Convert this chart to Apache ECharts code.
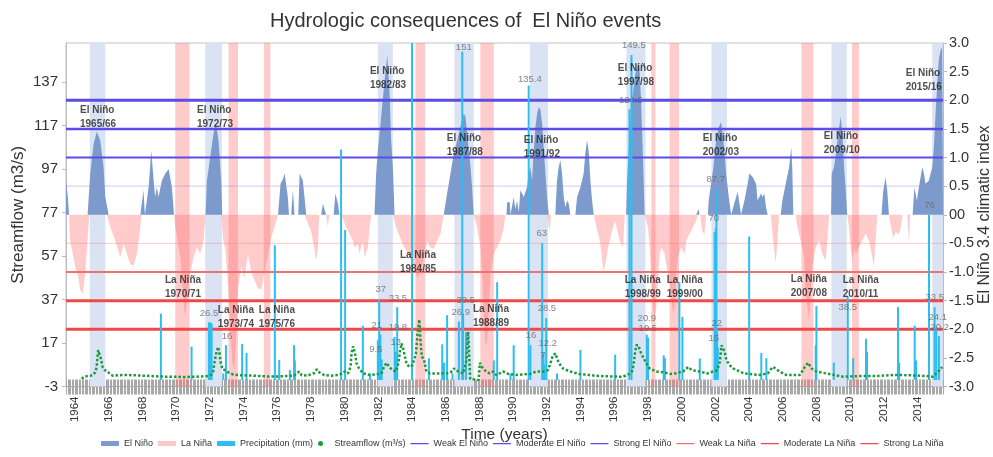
<!DOCTYPE html>
<html><head><meta charset="utf-8">
<script src="https://cdn.jsdelivr.net/npm/echarts@6/dist/echarts.min.js"></script>
<style>html,body{margin:0;padding:0;background:#fff}#c{width:993px;height:457px}</style>
</head><body><div id="c"></div>
<script>
const XMIN = 1963.47, XMAX = 2015.5;
const yearLabels = [1964,1966,1968,1970,1972,1974,1976,1978,1980,1982,1984,1986,1988,1990,1992,1994,1996,1998,2000,2002,2004,2006,2008,2010,2012,2014];
const streamTicks = [-3,17,37,57,77,97,117,137];
const indexTicks = [-3,-2.5,-2,-1.5,-1,-0.5,0,0.5,1,1.5,2,2.5,3];

// Niño 3.4 index [year, value]
const ninoIndex = [
[1963.47,0.6],[1963.58,0.3],[1963.65,0],
[1963.72,-0.45],[1964.02,-0.91],[1964.2,-1.1],[1964.32,-1.32],[1964.45,-1.38],[1964.61,-1.03],[1964.75,-0.45],[1964.85,0],
[1964.91,0.72],[1965.11,1.24],[1965.3,1.45],[1965.5,1.3],[1965.7,0.83],[1965.8,0.31],[1965.9,0.34],[1966.0,0],
[1966.1,-0.22],[1966.39,-0.45],[1966.69,-0.74],[1966.89,-0.51],[1967.08,-0.68],[1967.28,-0.86],[1967.48,-0.89],[1967.68,-0.68],[1967.88,-0.22],[1967.95,0],
[1968.07,0.43],[1968.15,0],[1968.25,0],[1968.37,0.48],[1968.53,1.12],[1968.67,0.6],[1968.76,0.31],[1968.86,0.48],[1968.96,0.31],[1969.16,0.6],[1969.36,0.72],[1969.56,0.8],[1969.75,0.48],[1969.88,0],
[1969.95,-0.22],[1970.25,-0.74],[1970.45,-1.5],[1970.54,-1.79],[1970.64,-1.5],[1970.84,-1.03],[1971.04,-0.74],[1971.24,-0.57],[1971.43,-0.68],[1971.63,-0.45],[1971.75,0],
[1971.83,0.6],[1972.03,1.01],[1972.22,1.42],[1972.36,1.59],[1972.52,1.3],[1972.68,0.6],[1972.74,0],
[1972.8,-0.45],[1972.92,-0.6],[1973.11,-1.32],[1973.25,-2.2],[1973.35,-2.6],[1973.45,-2.72],[1973.55,-2.3],[1973.67,-1.3],[1973.87,-0.9],[1974.06,-1.1],[1974.26,-0.7],[1974.46,-1.0],[1974.66,-1.15],[1974.86,-1.29],[1975.05,-1.3],[1975.25,-1.0],[1975.45,-0.7],[1975.65,-0.4],[1975.84,-0.22],[1976.05,0],
[1976.2,0.55],[1976.34,0.62],[1976.44,0.72],[1976.54,0.75],[1976.63,0.31],[1976.7,0],[1976.83,0],[1976.93,0.43],[1977.03,0],[1977.25,0],[1977.33,0.72],[1977.42,0.75],[1977.52,0.6],[1977.62,0.31],[1977.72,0],
[1977.82,-0.15],[1978.02,-0.3],[1978.21,-0.6],[1978.31,-0.8],[1978.41,-0.6],[1978.5,0],
[1978.61,0],[1978.71,0.19],[1978.8,0.1],[1978.9,0],[1979.0,-0.2],[1979.1,0],[1979.35,0],[1979.45,0.37],[1979.6,0.2],[1979.69,0],
[1979.8,0],[1980.09,-0.22],[1980.29,-0.33],[1980.49,-0.45],[1980.59,-0.57],[1980.78,-0.51],[1980.88,-0.68],[1981.08,-0.45],[1981.18,-0.74],[1981.38,-0.57],[1981.48,-0.22],[1981.58,0],
[1981.77,0],[1981.87,0.72],[1981.97,1.12],[1982.17,1.71],[1982.37,2.35],[1982.53,2.79],[1982.66,2.17],[1982.76,1.3],[1982.86,0.83],[1982.92,0.37],[1982.96,0],
[1983.06,-0.22],[1983.16,-0.3],[1983.36,-0.45],[1983.55,-0.57],[1983.75,-0.68],[1983.95,-0.8],[1984.15,-0.9],[1984.3,-1.1],[1984.5,-1.0],[1984.7,-0.75],[1984.9,-0.45],[1985.09,-0.57],[1985.29,-0.6],[1985.49,-0.45],[1985.69,-0.33],[1985.88,0],
[1985.98,0],[1986.08,0.37],[1986.28,0.72],[1986.48,1.07],[1986.68,1.3],[1986.87,1.54],[1987.07,1.77],[1987.17,1.71],[1987.27,1.42],[1987.37,1.12],[1987.47,0.83],[1987.56,0.48],[1987.66,0],
[1987.76,0],[1987.86,-0.22],[1988.06,-0.57],[1988.16,-1.03],[1988.26,-1.74],[1988.36,-2.3],[1988.45,-2.2],[1988.55,-1.62],[1988.65,-1.03],[1988.85,-0.68],[1989.05,-0.57],[1989.24,-0.45],[1989.44,-0.22],[1989.54,0],
[1989.6,0],[1989.64,0.22],[1989.8,0.22],[1989.84,0],[1989.95,0],[1990.03,0.31],[1990.13,0.1],[1990.23,0.25],[1990.33,0.05],[1990.43,0.43],[1990.53,0.37],[1990.63,0.31],[1990.82,0.48],[1990.92,0.72],[1991.02,0.83],[1991.12,0.6],[1991.22,1.12],[1991.32,1.53],[1991.42,1.77],[1991.52,1.88],[1991.62,1.83],[1991.72,1.59],[1991.81,1.18],[1991.91,0.72],[1992.01,0.31],[1992.11,0],
[1992.15,-0.3],[1992.25,0],
[1992.5,0],[1992.6,0.6],[1992.7,0.83],[1992.8,0.95],[1992.9,0.72],[1993.0,0.31],[1993.1,0.13],[1993.2,0.25],[1993.3,0.19],[1993.39,0],
[1993.69,0],[1993.79,0.31],[1993.99,0.48],[1994.18,0.72],[1994.28,1.07],[1994.38,1.3],[1994.48,1.12],[1994.58,0.6],[1994.68,0.25],[1994.78,0],
[1994.84,0],[1994.94,-0.22],[1995.14,-0.45],[1995.24,-0.68],[1995.34,-0.97],[1995.44,-0.91],[1995.63,-0.57],[1995.83,-0.33],[1996.03,-0.1],[1996.13,-0.22],[1996.32,-0.45],[1996.52,-0.57],[1996.62,0],
[1996.7,0],[1996.76,0.6],[1996.88,1.3],[1997.02,1.88],[1997.21,2.41],[1997.41,2.65],[1997.51,2.47],[1997.6,1.88],[1997.7,1.0],[1997.8,0],
[1997.9,0],[1998.0,-0.22],[1998.1,-0.57],[1998.2,-1.15],[1998.29,-1.61],[1998.39,-1.85],[1998.49,-1.61],[1998.59,-1.15],[1998.69,-0.68],[1998.79,-0.57],[1998.98,-0.68],[1999.18,-1.03],[1999.38,-1.38],[1999.48,-1.73],[1999.58,-1.61],[1999.67,-1.03],[1999.77,-0.74],[1999.97,-0.57],[2000.17,-0.68],[2000.27,-0.45],[2000.46,-0.33],[2000.66,-0.22],[2000.86,-0.1],[2000.95,0],
[2001.0,0.1],[2001.05,0],[2001.1,0],[2001.2,-0.27],[2001.35,-0.35],[2001.45,0],
[2001.55,0],[2001.6,0.25],[2001.74,0.54],[2001.88,0.83],[2002.04,1.3],[2002.2,1.53],[2002.33,1.62],[2002.43,1.42],[2002.53,1.12],[2002.63,0.72],[2002.79,0.31],[2002.93,0],
[2003.02,0],[2003.12,0.2],[2003.32,0.4],[2003.42,0.2],[2003.52,0],
[2003.62,0],[2003.72,0.25],[2003.91,0.54],[2004.01,0.72],[2004.21,0.66],[2004.41,0.54],[2004.5,0.25],[2004.6,0.31],[2004.7,0.37],[2004.8,0.31],[2004.9,0.37],[2005.0,0.13],[2005.1,0],
[2005.28,0],[2005.38,-0.3],[2005.47,-0.6],[2005.57,-0.83],[2005.67,-0.5],[2005.77,0],
[2005.87,0],[2005.97,0.25],[2006.17,0.54],[2006.37,0.83],[2006.5,1.18],[2006.56,0.8],[2006.62,0],
[2006.76,0],[2006.86,-0.22],[2007.06,-0.45],[2007.26,-0.74],[2007.35,-1.38],[2007.45,-1.61],[2007.55,-1.85],[2007.65,-1.38],[2007.75,-0.91],[2007.95,-0.57],[2008.14,-0.45],[2008.34,-0.68],[2008.54,-0.8],[2008.64,-0.45],[2008.74,0],
[2008.86,0],[2008.9,0.72],[2009.03,0.83],[2009.13,1.01],[2009.29,1.42],[2009.43,1.71],[2009.53,1.42],[2009.63,0.83],[2009.72,0.48],[2009.82,0],
[2009.92,-0.22],[2010.02,-0.57],[2010.12,-0.8],[2010.22,-0.57],[2010.32,-0.68],[2010.51,-0.57],[2010.71,-0.45],[2010.91,-0.33],[2011.11,-0.45],[2011.3,-0.74],[2011.4,-0.91],[2011.5,-0.45],[2011.6,0],
[2011.85,0],[2011.95,0.4],[2012.09,0.66],[2012.2,0.4],[2012.29,0],
[2012.4,-0.2],[2012.55,-0.4],[2012.7,-0.3],[2012.88,-0.35],[2013.0,-0.2],[2013.1,0],[2013.38,0],[2013.48,-0.5],[2013.55,0],
[2013.7,0],[2013.8,0.48],[2013.95,0.25],[2014.07,0.48],[2014.27,0.83],[2014.37,0.72],[2014.46,0.54],[2014.66,0.6],[2014.86,0.83],[2014.96,1.18],[2015.06,1.77],[2015.16,2.29],[2015.25,2.7],[2015.35,2.87],[2015.45,2.93],[2015.5,2.95]
];

// Precipitation (mm) [year, value]
const precipitation = [
[1969.1,30.5],[1970.92,15.3],[1971.95,26.5],[1972.03,26.5],[1972.11,26.0],[1972.8,3],[1972.96,16],[1973.92,16.5],[1974.18,12.4],
[1975.86,62],[1976.12,9.2],[1976.75,4.6],[1977.0,16],[1977.05,9],[1979.79,106],[1980.03,69],[1981.08,25],[1981.5,3],
[1981.97,18.3],[1982.05,37],[1982.12,21],[1982.2,9.5],[1982.96,19.8],[1983.04,13],[1983.12,33.5],[1984.0,170],
[1985.0,10],[1985.79,16.4],[1985.9,8],[1986.08,29.8],[1986.4,3],[1986.78,26.9],[1986.98,151],[1987.03,30.5],[1987.2,22],
[1988.85,9],[1989.05,45],[1989.84,3],[1990.03,16],[1990.92,135.4],[1991.02,16],[1991.72,63],[1991.8,12.2],[1991.85,7],[1991.96,28.5],
[1992.6,3],[1993.99,13.8],[1996.05,11.6],[1996.9,124.5],[1997.02,149.5],[1997.92,20.9],[1998.0,19.5],[1998.93,11.3],[1999.0,10],
[1999.86,45],[2000.04,29],[2001.07,9.9],[2001.95,68],[2002.02,70],[2002.06,87.7],[2002.1,22],[2002.14,15],[2004.0,66],[2004.72,12.5],
[2005.02,10],[2007.95,16],[2007.99,34],[2009.02,8],[2009.85,38.5],[2010.17,10],[2010.93,19],[2010.99,13],[2012.83,33.5],[2012.9,8],
[2013.82,25],[2013.9,9],[2014.67,76],[2015.0,33.5],[2015.1,24.1],[2015.26,20.2]
];

// Streamflow (m3/s) [year, value]
const streamflow = [
[1964.4,0.5],[1964.55,1.5],[1964.75,1.8],[1964.95,2.0],[1965.1,2.5],[1965.2,3.5],[1965.29,6],[1965.33,10],[1965.38,13.7],[1965.44,14],[1965.54,9.8],[1965.64,6],[1965.78,4.5],[1965.95,3.8],[1966.1,2.5],[1966.27,1.9],
[1966.6,2.2],[1967,2.3],[1967.5,2.2],[1968,2.0],[1968.5,1.8],[1969,1.6],[1969.5,1.5],[1970,1.5],[1970.5,1.3],[1971,1.5],[1971.5,1.6],[1971.9,1.8],
[1972.1,2.5],[1972.2,4],[1972.3,9],[1972.4,13],[1972.5,15.2],[1972.58,12],[1972.65,8],[1972.75,5],[1972.9,4.5],[1973.1,3.5],[1973.4,2.5],[1973.8,2.2],
[1974.5,2.0],[1975,1.8],[1975.5,1.6],[1976,1.6],[1976.5,1.8],[1977,2.0],[1977.3,3.9],[1977.45,2.2],[1977.8,2.0],[1978.2,3.2],[1978.35,4.9],[1978.5,3.5],[1978.8,2.2],
[1979.2,2.0],[1979.7,2.3],[1980.0,3.9],[1980.2,3.0],[1980.35,6],[1980.41,12.2],[1980.5,15.5],[1980.61,12.5],[1980.71,7.6],[1980.86,5.3],[1981.1,3],[1981.5,2.3],[1981.9,2.6],
[1982.19,3],[1982.33,6],[1982.49,7.9],[1982.65,6],[1982.84,4.5],[1983.05,3.9],[1983.2,8],[1983.28,12.9],[1983.38,16.8],[1983.47,14.5],[1983.57,15.2],[1983.67,7.6],[1983.83,6],
[1984.03,6.8],[1984.23,12.2],[1984.33,21.4],[1984.43,27.8],[1984.5,18.3],[1984.58,10.6],[1984.7,9.9],[1984.85,3.9],[1985.06,3],[1985.5,3],[1986.0,3],[1986.3,3.5],[1986.48,5.3],[1986.75,3.9],
[1987.03,3],[1987.13,6],[1987.23,9.1],[1987.33,22.2],[1987.45,0.5],[1987.55,0],[1987.95,0],[1988.02,7.9],[1988.15,6],[1988.31,4.5],[1988.6,3],[1988.8,3.9],[1988.99,2.3],
[1989.2,3],[1989.4,3.9],[1989.7,2.8],[1990.2,2.3],[1990.99,2.8],[1991.38,3.9],[1991.8,3.9],[1992.05,4.5],[1992.17,6.8],[1992.36,11.4],[1992.52,12.2],[1992.6,9.9],[1992.73,7.6],[1992.95,5.3],
[1993.36,3.9],[1993.9,2.8],[1994.94,1.9],[1995.8,1.6],[1996.51,1.5],[1996.9,2.8],[1997.05,4],[1997.14,6.8],[1997.22,12],[1997.3,16],[1997.42,16],[1997.5,15.2],[1997.6,12],[1997.7,10.6],[1997.9,7.6],
[1998.1,5.3],[1998.5,3.9],[1998.9,3.6],[1999.3,2.8],[1999.6,3.0],[2000.08,3.9],[2000.25,5],[2000.38,6],[2000.6,4.5],[2001.07,3.9],[2001.5,3.0],[2001.86,3.9],
[2002.1,4.5],[2002.26,8.3],[2002.36,16],[2002.45,16.8],[2002.55,13],[2002.65,9.1],[2002.85,6.8],[2003.05,5.3],[2003.44,3.9],[2003.7,3.0],[2004.63,2.3],
[2005.1,3.0],[2005.3,5],[2005.42,6],[2005.55,5.3],[2005.81,3.9],[2006.2,2.3],[2007.0,2.3],[2007.15,4],[2007.3,6],[2007.5,7.9],[2007.7,5.3],[2007.99,3.9],
[2008.58,3.0],[2009.57,1.5],[2010.56,1.8],[2011.5,1.8],[2012.54,2.3],[2013.5,2.2],[2014.5,1.8],[2014.9,1.5],[2015.1,3.0],[2015.3,4.5],[2015.45,6]
];

// Event periods [start, end] (years)
const elNinoBands = [[1964.88,1965.8],[1971.73,1972.72],[1981.97,1982.86],[1986.52,1987.66],[1991.0,1992.06],[1996.72,1997.85],[2001.76,2002.68],[2008.88,2009.79],[2014.86,2015.5]];
const laNinaBands = [[1969.95,1970.8],[1973.11,1973.67],[1975.21,1975.59],[1984.2,1984.78],[1988.05,1988.85],[1998.2,1998.44],[1999.28,1999.84],[2007.1,2007.81],[2010.1,2010.51]];

// Event labels [period, year, index]
const elNinoLabels = [["1965/66",1964.30,1.70],["1972/73",1971.24,1.70],["1982/83",1981.50,2.39],["1987/88",1986.06,1.22],["1991/92",1990.63,1.18],["1997/98",1996.21,2.44],["2002/03",2001.25,1.22],["2009/10",2008.42,1.25],["2015/16",2013.29,2.35]];
const laNinaLabels = [["1970/71",1969.34,-1.27],["1973/74",1972.48,-1.79],["1975/76",1974.91,-1.79],["1984/85",1983.28,-0.83],["1988/89",1987.61,-1.77],["1998/99",1996.62,-1.27],["1999/00",1999.11,-1.27],["2007/08",2006.47,-1.25],["2010/11",2009.55,-1.27]];

// Precipitation value annotations [text, year, value]
const precipNotes = [["26.5",1971.95,30.7],["16",1973.02,20.2],["37",1982.15,41.7],["21",1981.91,25.2],["9.5",1981.85,14.2],["33.5",1983.16,37.6],["19.8",1983.16,24.3],["13",1983.04,17.4],
["151",1987.07,153.2],["135.4",1990.99,138.1],["30.5",1987.19,36.7],["26.9",1986.89,31.2],["63",1991.70,67.4],["28.5",1992.0,33.0],["16",1991.05,20.6],["12.2",1992.05,16.9],["7",1991.76,11.4],
["149.5",1997.16,153.7],["124.5",1996.98,128.4],["20.9",1997.93,28.4],["19.5",1997.99,23.8],["87.7",2002.02,92.2],["70",2001.90,74.3],["22",2002.08,26.1],["15",2001.90,19.2],
["38.5",2009.85,33.5],["76",2014.71,80.2],["33.5",2015.01,38.1],["24.1",2015.19,28.9],["20.2",2015.31,24.3]];

// Thresholds (index)
const elNinoThresholds = {weak:1.0, moderate:1.5, strong:2.0};
const laNinaThresholds = {weak:-1.0, moderate:-1.5, strong:-2.0};
const faintThresholds = [0.5,-0.5];

const BLUE='#7c9acb', PINK='rgba(255,110,110,0.36)', CYAN='#2ebdf0', GREEN='#1e9a3c', PURPLE='#5b4be8', RED='#f04848';
const SANS="'Liberation Sans',Arial,sans-serif";
const LINE_ICON='path://M0,0h0.01v0.01h-0.01z M0,2h24v1.6h-24z M0,5h0.01v0.01h-0.01z';

const monthTicks=[]; for(let i=0;;i++){const v=1963.5+i/12; if(v>XMAX) break; monthTicks.push(+v.toFixed(4));}

function hline(v){return [[XMIN,v],[XMAX,v]];}
function thr(name,v,color,w){return {name,type:'line',yAxisIndex:1,data:hline(v),symbol:'none',silent:true,z:4,color:color,itemStyle:{color:color},lineStyle:{color:color,width:w}};}

const chart = echarts.init(document.getElementById('c'), null, {renderer:'canvas'});
chart.setOption({
  animation:false,
  title:{text:'Hydrologic consequences of  El Niño events',left:265,top:6,textStyle:{fontSize:20,fontWeight:'normal',color:'#333',fontFamily:SANS}},
  grid:{left:66,right:50,top:43,bottom:70.5,show:true,borderColor:'#c4c4c4',borderWidth:1,outerBoundsMode:'none',containLabel:false},
  legend:{bottom:4,left:96,itemGap:5,itemWidth:18,itemHeight:5,textStyle:{fontSize:9,color:'#333',fontFamily:SANS},
    data:[{name:'El Niño',icon:'rect'},{name:'La Niña',icon:'rect'},{name:'Precipitation (mm)',icon:'rect'},{name:'Streamflow (m³/s)',icon:'circle'},
      {name:'Weak El Niño',icon:LINE_ICON},{name:'Moderate El Niño',icon:LINE_ICON},{name:'Strong El Niño',icon:LINE_ICON},
      {name:'Weak La Niña',icon:LINE_ICON},{name:'Moderate La Niña',icon:LINE_ICON},{name:'Strong La Niña',icon:LINE_ICON}]},
  xAxis:[
    {type:'value',min:XMIN,max:XMAX,position:'bottom',
      name:'Time (years)',nameLocation:'middle',nameGap:40,nameMoveOverlap:false,nameTextStyle:{fontSize:15.5,color:'#333',fontFamily:SANS},
      axisLine:{show:true,onZero:false,lineStyle:{color:'#aaa'}},
      axisTick:{show:true,customValues:monthTicks,length:8,lineStyle:{color:'#a8a8a8'}},
      axisLabel:{customValues:yearLabels,rotate:90,fontSize:11.5,color:'#333',margin:10,formatter:v=>String(Math.round(v)),fontFamily:SANS},
      splitLine:{show:false}},
    {type:'value',min:XMIN,max:XMAX,position:'bottom',
      axisLine:{show:false,onZero:false},axisLabel:{show:false},splitLine:{show:false},
      axisTick:{show:true,inside:true,customValues:monthTicks,length:7,lineStyle:{color:'#a8a8a8'}}}
  ],
  yAxis:[
    {type:'value',min:-3,max:155,interval:20,position:'left',
      name:'Streamflow (m3/s)',nameLocation:'middle',nameGap:39,nameMoveOverlap:false,nameRotate:90,nameTextStyle:{fontSize:17,color:'#333',fontFamily:SANS},
      axisLine:{show:true,onZero:false,lineStyle:{color:'#bbb'}},axisTick:{show:true,length:4,lineStyle:{color:'#bbb'}},
      axisLabel:{fontSize:15,color:'#333',showMaxLabel:false,margin:8,fontFamily:SANS,formatter:v=>streamTicks.includes(v)?String(v):''},splitLine:{show:false}},
    {type:'value',min:-3,max:3,interval:0.5,position:'right',
      name:'El Niño 3.4 climatic index',nameLocation:'middle',nameGap:34,nameMoveOverlap:false,nameRotate:90,nameTextStyle:{fontSize:16,color:'#333',fontFamily:SANS},
      axisLine:{show:true,onZero:false,lineStyle:{color:'#bbb'}},axisTick:{show:true,length:4,lineStyle:{color:'#bbb'}},
      axisLabel:{fontSize:14.5,color:'#333',margin:6,fontFamily:SANS,formatter:v=>indexTicks.includes(v)?(v===0?'00':v.toFixed(1)):''},splitLine:{show:false}}
  ],
  series:[
    {name:'bands',type:'line',yAxisIndex:1,data:[],silent:true,z:1,
      markArea:{silent:true,data:[
        ...elNinoBands.map(b=>[{xAxis:b[0],itemStyle:{color:'#dae3f3'}},{xAxis:b[1]}]),
        ...laNinaBands.map(b=>[{xAxis:b[0],itemStyle:{color:PINK}},{xAxis:b[1]}])
      ]}},
    {name:'El Niño',type:'line',yAxisIndex:1,data:ninoIndex.map(d=>[d[0],Math.max(d[1],0)]),symbol:'none',color:BLUE,
      lineStyle:{width:0},areaStyle:{color:BLUE,opacity:1},z:2,silent:true},
    {name:'La Niña',type:'line',yAxisIndex:1,data:ninoIndex.map(d=>[d[0],Math.min(d[1],0)]),symbol:'none',color:'#ffc8c8',
      lineStyle:{width:0},areaStyle:{color:PINK,opacity:1},z:2,silent:true},
    {name:'faint',type:'line',yAxisIndex:1,data:hline(faintThresholds[0]),symbol:'none',silent:true,z:3,lineStyle:{color:'rgba(150,140,220,0.45)',width:1}},
    {name:'faint2',type:'line',yAxisIndex:1,data:hline(faintThresholds[1]),symbol:'none',silent:true,z:3,lineStyle:{color:'rgba(240,140,140,0.45)',width:1}},
    thr('Weak El Niño',elNinoThresholds.weak,PURPLE,2),
    thr('Moderate El Niño',elNinoThresholds.moderate,PURPLE,2.5),
    thr('Strong El Niño',elNinoThresholds.strong,PURPLE,3),
    thr('Weak La Niña',laNinaThresholds.weak,'#f07070',2),
    thr('Moderate La Niña',laNinaThresholds.moderate,RED,3),
    thr('Strong La Niña',laNinaThresholds.strong,RED,3),
    {name:'Precipitation (mm)',type:'bar',xAxisIndex:0,yAxisIndex:0,data:precipitation,barWidth:2,color:CYAN,itemStyle:{color:CYAN},z:5,silent:true},
    {name:'Streamflow (m³/s)',type:'line',yAxisIndex:0,data:streamflow,symbol:'none',color:GREEN,itemStyle:{color:GREEN},
      lineStyle:{color:GREEN,width:2.5,type:[2.5,2]},z:6,silent:true},
    {name:'elLabels',type:'scatter',yAxisIndex:1,symbolSize:0,silent:true,z:7,
      data:elNinoLabels.map(d=>({value:[d[1],d[2]],label:{formatter:'El Niño\n'+d[0]}})),
      label:{show:true,position:'right',distance:0,fontSize:10,fontWeight:'bold',color:'#222',lineHeight:14,fontFamily:SANS}},
    {name:'laLabels',type:'scatter',yAxisIndex:1,symbolSize:0,silent:true,z:7,
      data:laNinaLabels.map(d=>({value:[d[1],d[2]],label:{formatter:'La Niña\n'+d[0]}})),
      label:{show:true,position:'right',distance:0,fontSize:10,fontWeight:'bold',color:'#222',lineHeight:14,fontFamily:SANS}},
    {name:'notes',type:'scatter',yAxisIndex:0,symbolSize:0,silent:true,z:7,
      data:precipNotes.map(d=>({value:[d[1],d[2]],label:{formatter:d[0]}})),
      label:{show:true,position:'inside',fontSize:9.5,color:'#666',fontFamily:SANS}}
  ]
});
</script></body></html>
